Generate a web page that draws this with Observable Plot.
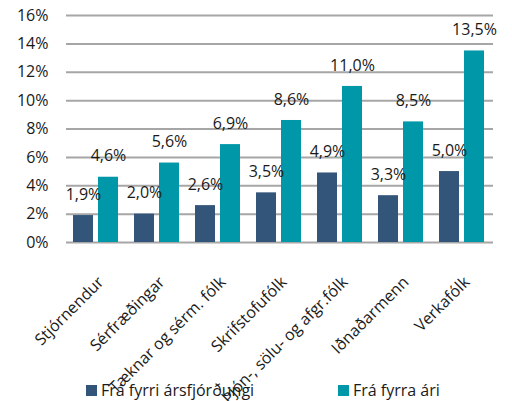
<!DOCTYPE html>
<html>
<head>
<meta charset="utf-8">
<script src="https://cdn.jsdelivr.net/npm/d3@7"></script>
<script src="https://cdn.jsdelivr.net/npm/@observablehq/plot@0.6"></script>
<style>
  body { margin: 0; background: #fff; }
  #wrap { position: relative; width: 512px; height: 401px; overflow: hidden; font-family: "Open Sans", sans-serif; }
  .legend { position: absolute; top: 379px; left: 0; width: 512px; height: 22px; font-size: 16px; color: #1a1a1a; }
  .item { position: absolute; top: 0; display: flex; align-items: center; height: 22px; white-space: nowrap; }
  .sw { width: 11px; height: 11px; margin-right: 4px; }
</style>
</head>
<body>
<div id="wrap"></div>
<script>
const categories = ["Stjórnendur", "Sérfræðingar", "Tæknar og sérm. fólk", "Skrifstofufólk", "Þjón-, sölu- og afgr.fólk", "Iðnaðarmenn", "Verkafólk"];
const seriesNames = ["Frá fyrri ársfjórðungi", "Frá fyrra ári"];
const quarterValues = [1.9, 2.0, 2.6, 3.5, 4.9, 3.3, 5.0];
const yearValues = [4.6, 5.6, 6.9, 8.6, 11.0, 8.5, 13.5];
const yTicks = [0, 2, 4, 6, 8, 10, 12, 14, 16];
const colors = ["#34557a", "#0097a8"];

const fmt = v => v.toFixed(1).replace(".", ",") + "%";
const q = categories.map((c, i) => ({cat: c, value: quarterValues[i]}));
const yr = categories.map((c, i) => ({cat: c, value: yearValues[i]}));

const chart = Plot.plot({
  width: 512,
  height: 401,
  marginLeft: 66,
  marginRight: 19,
  marginTop: 15,
  marginBottom: 159,
  style: {fontFamily: "Open Sans, sans-serif", fontSize: "16px", color: "#1a1a1a", background: "transparent", overflow: "visible"},
  x: {domain: categories, padding: 0, label: null},
  y: {domain: [0, 16], ticks: yTicks, label: null},
  marks: [
    Plot.ruleY(yTicks, {stroke: "#a6a6a6", strokeWidth: 2}),
    Plot.axisY({ticks: yTicks, tickFormat: d => d + "%", tickSize: 0, tickPadding: 18, fontSize: 16, label: null}),
    Plot.axisX({tickSize: 0, tickPadding: 37, tickRotate: -45, dx: 4, fontSize: 16, label: null}),
    Plot.barY(q, {x: "cat", y: "value", fill: colors[0], insetLeft: 7, insetRight: 34}),
    Plot.barY(yr, {x: "cat", y: "value", fill: colors[1], insetLeft: 32, insetRight: 9}),
    Plot.text(q, {x: "cat", y: "value", text: d => fmt(d.value), dx: -13.5, dy: -21, fontSize: 16, fill: "#1a1a1a"}),
    Plot.text(yr, {x: "cat", y: "value", text: d => fmt(d.value), dx: 11.5, dy: -21, fontSize: 16, fill: "#1a1a1a"})
  ]
});
const wrap = document.getElementById("wrap");
wrap.appendChild(chart);

const legend = document.createElement("div");
legend.className = "legend";
const lefts = [86, 338];
seriesNames.forEach((s, i) => {
  const it = document.createElement("div");
  it.className = "item";
  it.style.left = lefts[i] + "px";
  const sw = document.createElement("span");
  sw.className = "sw";
  sw.style.background = colors[i];
  const t = document.createElement("span");
  t.textContent = s;
  it.appendChild(sw);
  it.appendChild(t);
  legend.appendChild(it);
});
wrap.appendChild(legend);
</script>
</body>
</html>
